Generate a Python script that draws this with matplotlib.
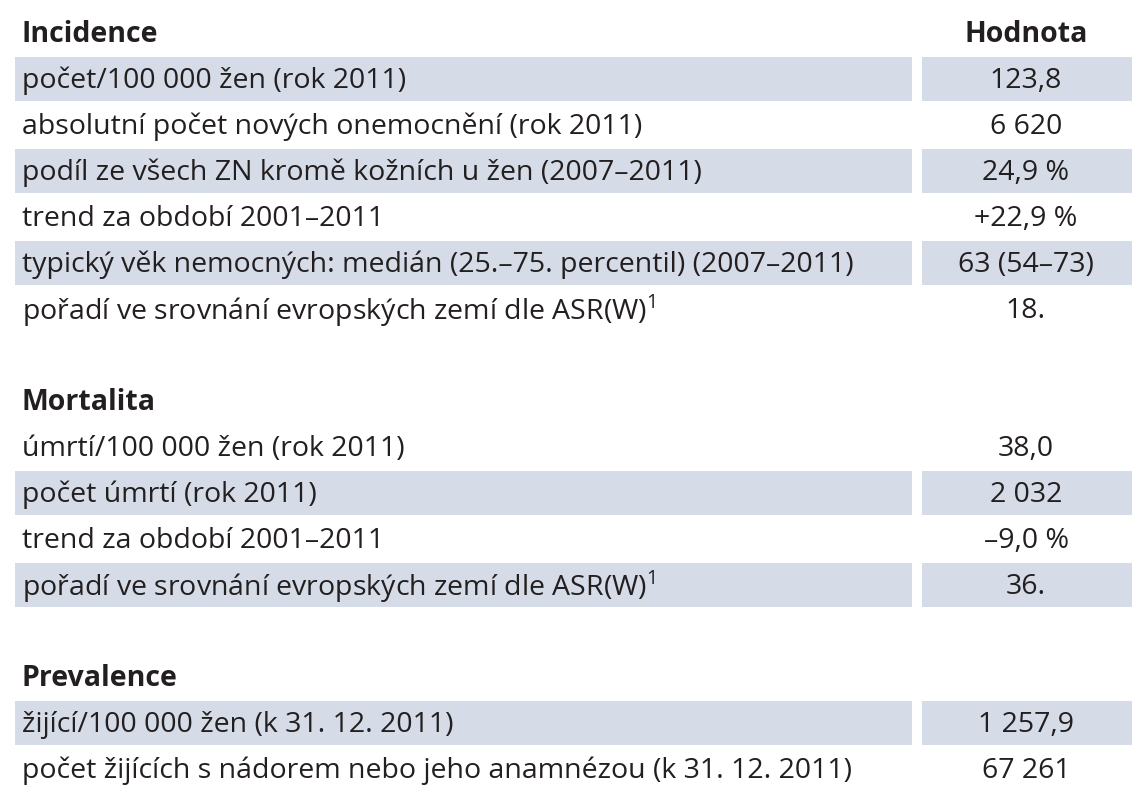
import matplotlib.pyplot as plt
from matplotlib.patches import Rectangle

plt.rcParams['font.family'] = ['Open Sans', 'DejaVu Sans']
plt.rcParams['mathtext.fontset'] = 'custom'
plt.rcParams['mathtext.rm'] = 'Open Sans'

# (text, value, kind) kind: 'h' header, 's' shaded row, 'p' plain row, 'b' blank
rows = [
    ('Incidence', 'Hodnota', 'h'),
    ('počet/100 000 žen (rok 2011)', '123,8', 's'),
    ('absolutní počet nových onemocnění (rok 2011)', '6 620', 'p'),
    ('podíl ze všech ZN kromě kožních u žen (2007–2011)', '24,9 %', 's'),
    ('trend za období 2001–2011', '+22,9 %', 'p'),
    ('typický věk nemocných: medián (25.–75. percentil) (2007–2011)', '63 (54–73)', 's'),
    ('pořadí ve srovnání evropských zemí dle ASR(W)$^{\\mathrm{1}}$', '18.', 'p'),
    ('', '', 'b'),
    ('Mortalita', '', 'h'),
    ('úmrtí/100 000 žen (rok 2011)', '38,0', 'p'),
    ('počet úmrtí (rok 2011)', '2 032', 's'),
    ('trend za období 2001–2011', '–9,0 %', 'p'),
    ('pořadí ve srovnání evropských zemí dle ASR(W)$^{\\mathrm{1}}$', '36.', 's'),
    ('', '', 'b'),
    ('Prevalence', '', 'h'),
    ('žijící/100 000 žen (k 31. 12. 2011)', '1 257,9', 's'),
    ('počet žijících s nádorem nebo jeho anamnézou (k 31. 12. 2011)', '67 261', 'p'),
]

fig = plt.figure(figsize=(11.45, 8), dpi=100)
ax = fig.add_axes([0, 0, 1, 1])
ax.set_xlim(0, 1145)
ax.set_ylim(800, 0)
ax.axis('off')

shade = '#d5dce8'
row_h = 46
y0 = 33
for i, (label, value, kind) in enumerate(rows):
    yc = y0 + i * row_h
    if kind == 'b':
        continue
    if kind == 's':
        ax.add_patch(Rectangle((15, yc - 22), 897, 44, color=shade, lw=0))
        ax.add_patch(Rectangle((922, yc - 22), 210, 44, color=shade, lw=0))
    weight = 'bold' if kind == 'h' else 'normal'
    ax.text(22, yc + 2, label, fontsize=20.5, fontweight=weight, color='#231f20',
            ha='left', va='center')
    ax.text(1026, yc + 2, value, fontsize=20.5, fontweight=weight, color='#231f20',
            ha='center', va='center')

fig.savefig('out.png', dpi=100)
